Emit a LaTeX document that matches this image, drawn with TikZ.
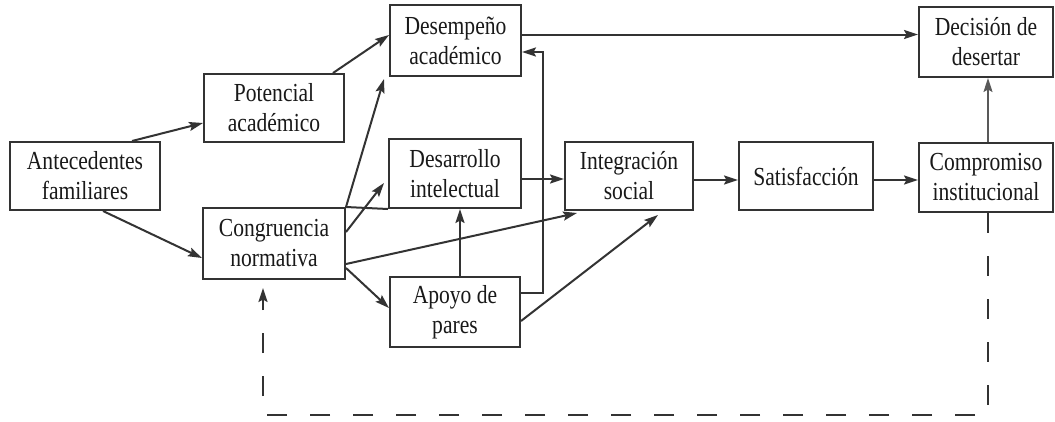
\documentclass[tikz,border=0pt]{standalone}
\usepackage{fontspec}
\setmainfont{Liberation Serif}[FakeStretch=0.83]
\usetikzlibrary{arrows.meta}
\definecolor{lineC}{gray}{0.2}
\definecolor{textC}{gray}{0.1}
\tikzset{
  box/.style={draw=lineC, line width=2pt, rectangle, inner sep=0pt, align=center,
    text=textC, font=\fontsize{26}{30}\selectfont},
  link/.style={draw=lineC, line width=2pt},
  arr/.style={link, -{Stealth[length=14pt,width=9pt,inset=2.5pt]}},
  feedback/.style={arr, dash pattern=on 20pt off 23pt}
}
\begin{document}
\begin{tikzpicture}[x=1pt, y=-1pt]
\useasboundingbox (0,0) rectangle (1055,421);
\fill[white] (0,0) rectangle (1055,421);

% boxes
\node[box, minimum width=150pt, minimum height=68pt] (ant) at (85,176)    {Antecedentes\\familiares};
\node[box, minimum width=140pt, minimum height=68pt] (pot) at (274,108)   {Potencial\\académico};
\node[box, minimum width=142pt, minimum height=71pt] (con) at (274,243.5) {Congruencia\\normativa};
\node[box, minimum width=131pt, minimum height=71pt] (des) at (455.5,40.5){Desempeño\\académico};
\node[box, minimum width=132pt, minimum height=69pt] (dev) at (455,173.5) {Desarrollo\\intelectual};
\node[box, minimum width=130pt, minimum height=70pt] (apo) at (455,312)   {Apoyo de\\pares};
\node[box, minimum width=128pt, minimum height=68pt] (int) at (629,176)   {Integración\\social};
\node[box, minimum width=134pt, minimum height=68pt] (sat) at (806,176)   {Satisfacción};
\node[box, minimum width=134pt, minimum height=69pt] (com) at (986,177.5) {Compromiso\\institucional};
\node[box, minimum width=134pt, minimum height=70pt] (dec) at (986,42)    {Decisión de\\desertar};

% helper points for bent connectors
\coordinate (rise) at (543,52);
\coordinate (loopR) at (988,415);
\coordinate (loopL) at (263,415);

% connectors
\draw[arr] ([xshift=47pt]ant.north) -- ([yshift=-15pt]pot.west);
\draw[arr] ([xshift=18pt]ant.south) -- ([yshift=-14.5pt]con.west);
\draw[arr] ([xshift=59pt]pot.north) -- ([yshift=5.5pt]des.west);
\draw[arr] (con.north east) -- ([xshift=-5pt,yshift=-2pt]des.south west);
\draw[link] (con.north east) -- (dev.south west);
\draw[arr] ([yshift=11.5pt]con.east) -- ([xshift=-4pt,yshift=-9.5pt]dev.west);
\draw[arr] ([yshift=-20.5pt]con.east) -- ([xshift=13pt,yshift=-2pt]int.south west);
\draw[arr] ([yshift=-24.5pt]con.east) -- ([yshift=4pt]apo.west);
\draw[arr] ([xshift=5pt]apo.north) -- ([xshift=5pt]dev.south);
\draw[arr] ([yshift=19pt]apo.east) -| (rise) -- ([yshift=-11.5pt]des.east);
\draw[arr] ([yshift=-9pt]apo.east) -- ([xshift=29pt,yshift=-4pt]int.south);
\draw[arr] ([yshift=-5.5pt]dev.east) -- ([yshift=-3pt]int.west);
\draw[arr] ([yshift=6pt]des.east) -- ([yshift=7.5pt]dec.west);
\draw[arr] ([yshift=-4pt]int.east) -- ([yshift=-4pt]sat.west);
\draw[arr] ([yshift=-4pt]sat.east) -- ([yshift=-2.5pt]com.west);
\draw[arr, draw=gray!70!black, line width=1.4pt] ([xshift=2pt]com.north) -- ([xshift=2pt]dec.south);
\draw[feedback] ([xshift=2pt]com.south) -- (loopR) -- (loopL) -- ([xshift=-11pt,yshift=-8pt]con.south);
\end{tikzpicture}
\end{document}
